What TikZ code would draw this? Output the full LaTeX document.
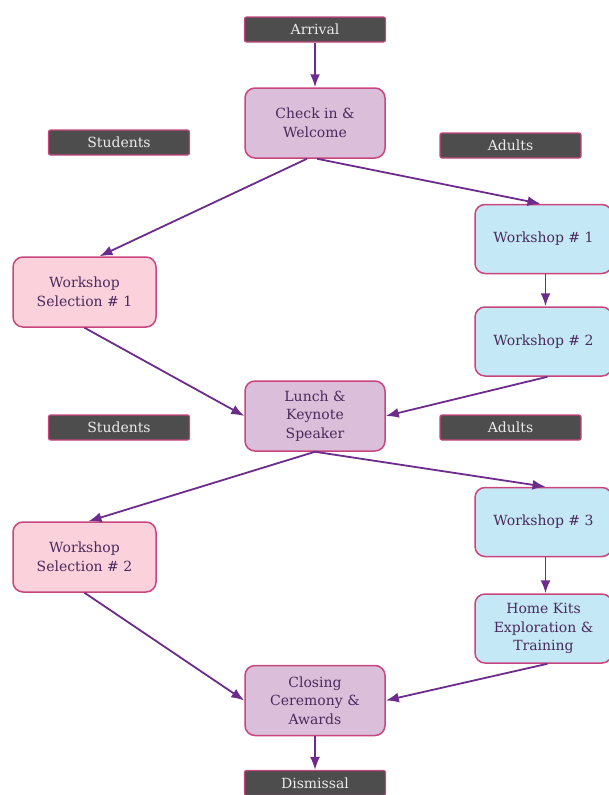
\documentclass[tikz,border=0pt]{standalone}
\usepackage{fontspec}
\setmainfont{DejaVu Serif}
\usetikzlibrary{arrows.meta}
\definecolor{darklab}{HTML}{4D4D4D}
\definecolor{edgepink}{HTML}{C8457E}
\definecolor{purfill}{HTML}{DBBEDA}
\definecolor{pinkfill}{HTML}{FBD1DC}
\definecolor{bluefill}{HTML}{C4E8F5}
\definecolor{arrowcol}{HTML}{6B2C8C}
\definecolor{textcol}{HTML}{4A2A5C}
\tikzset{
  lab/.style={draw=edgepink, fill=darklab, line width=1.2pt, rounded corners=2pt,
    minimum width=141pt, minimum height=25pt, text=white!92!black, font=\fontsize{14}{16}\selectfont, inner sep=0pt},
  boxbase/.style={draw=edgepink, line width=1.5pt, rounded corners=10pt,
    minimum height=70pt, text=textcol, align=center, font=\fontsize{14}{18.5}\selectfont, inner sep=0pt},
  purbox/.style={boxbase, fill=purfill, minimum width=140pt},
  pinkbox/.style={boxbase, fill=pinkfill, minimum width=143pt},
  bluebox/.style={boxbase, fill=bluefill, minimum width=137pt, minimum height=69pt},
  arr/.style={draw=arrowcol, line width=1.8pt, -{Latex[length=13pt,width=10pt]}}
}
\begin{document}
\begin{tikzpicture}[x=1pt,y=-1pt]
\useasboundingbox (0,0) rectangle (608,795);
\node[lab] (arrival) at (315,29.5) {Arrival};
\node[purbox] (check) at (315,123) {Check in \&\\Welcome};
\node[lab] (stud1) at (119,142.5) {Students};
\node[lab] (adult1) at (510.5,145.5) {Adults};
\node[bluebox] (w1) at (543.5,239) {Workshop \# 1};
\node[pinkbox] (ws1) at (84.5,292) {Workshop\\Selection \# 1};
\node[bluebox] (w2) at (543.5,341.5) {Workshop \# 2};
\node[purbox] (lunch) at (315,416) {Lunch \&\\Keynote\\Speaker};
\node[lab] (stud2) at (119,427.5) {Students};
\node[lab] (adult2) at (510.5,427.5) {Adults};
\node[bluebox] (w3) at (543.5,522) {Workshop \# 3};
\node[pinkbox] (ws2) at (84.5,557) {Workshop\\Selection \# 2};
\node[bluebox] (home) at (543.5,628.5) {Home Kits\\Exploration \&\\Training};
\node[purbox] (closing) at (315,700.5) {Closing\\Ceremony \&\\Awards};
\node[lab] (dismiss) at (315,783) {Dismissal};

\draw[arr] (arrival) -- (check);
\draw[arr] ([xshift=-8pt]check.south) -- ([xshift=15pt]ws1.north);
\draw[arr] ([xshift=2pt]check.south) -- ([xshift=-3pt]w1.north);
\draw[arr] ([xshift=2pt]w1.south) -- ([xshift=2pt]w2.north);
\draw[arr] (ws1.south) -- (lunch.west);
\draw[arr] ([xshift=4pt]w2.south) -- (lunch.east);
\draw[arr] (lunch.south) -- ([xshift=4pt]ws2.north);
\draw[arr] (lunch.south) -- ([xshift=2pt]w3.north);
\draw[arr] ([xshift=2pt]w3.south) -- ([xshift=2pt]home.north);
\draw[arr] (ws2.south) -- (closing.west);
\draw[arr] ([xshift=4pt]home.south) -- (closing.east);
\draw[arr] (closing) -- (dismiss);
\end{tikzpicture}
\end{document}
